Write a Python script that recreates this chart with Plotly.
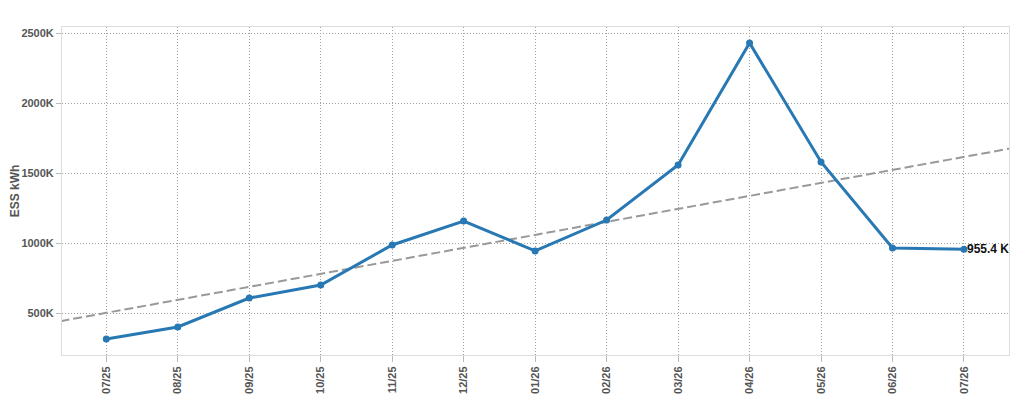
import numpy as np
import plotly.graph_objects as go

# Datos mensuales (kWh)
meses = ["07/25", "08/25", "09/25", "10/25", "11/25", "12/25", "01/26",
         "02/26", "03/26", "04/26", "05/26", "06/26", "07/26"]
ess_kwh = [314000, 400000, 607000, 700000, 986000, 1157000, 943000,
           1164000, 1557000, 2429000, 1579000, 964000, 955400]

y_ticks = [500000, 1000000, 1500000, 2000000, 2500000]
y_tick_labels = ["500K", "1000K", "1500K", "2000K", "2500K"]

idx = np.arange(len(meses))

# Tendencia lineal
pendiente, intercepto = np.polyfit(idx, ess_kwh, 1)
x_trend = np.array([-1, len(meses)])
y_trend = pendiente * x_trend + intercepto

fig = go.Figure()

fig.add_trace(go.Scatter(
    x=x_trend, y=y_trend, mode="lines",
    line=dict(color="#999999", width=2, dash="9px,4px"),
    hoverinfo="skip"
))

fig.add_trace(go.Scatter(
    x=idx, y=ess_kwh, mode="lines+markers",
    line=dict(color="#2878b4", width=3),
    marker=dict(color="#2878b4", size=7)
))

fig.add_annotation(
    x=idx[-1], y=ess_kwh[-1], text=f"{ess_kwh[-1]/1000:.1f} K",
    showarrow=False, xanchor="left", xshift=1,
    font=dict(family="Liberation Sans, Arial", size=12, color="#111111", weight="bold")
)

# la pagina tiene un margen de 8px en el body
fig.update_layout(
    width=1016, height=409,
    margin=dict(l=54, r=15, t=19, b=62),
    paper_bgcolor="white", plot_bgcolor="white",
    showlegend=False,
    font=dict(family="Liberation Sans, Arial", size=11, color="#555555", weight="bold")
)

fig.update_xaxes(
    tickvals=idx, ticktext=meses, tickangle=-90,
    range=[-0.62, 12.63], automargin=False,
    showgrid=True, gridcolor="#a0a0a0", griddash="1px,2px", gridwidth=1,
    showline=True, linecolor="#dddddd", linewidth=1, mirror=True,
    ticks="outside", ticklen=6, tickcolor="#bbbbbb",
    zeroline=False
)

fig.update_yaxes(
    tickvals=y_ticks, ticktext=y_tick_labels,
    range=[200000, 2543000], automargin=False,
    title=dict(text="ESS kWh", font=dict(size=12, color="#555555"), standoff=6),
    showgrid=True, gridcolor="#a0a0a0", griddash="1px,2px", gridwidth=1,
    showline=True, linecolor="#dddddd", linewidth=1, mirror=True,
    ticks="outside", ticklen=5, tickcolor="#bbbbbb",
    zeroline=False
)

fig.write_html("out.html")
